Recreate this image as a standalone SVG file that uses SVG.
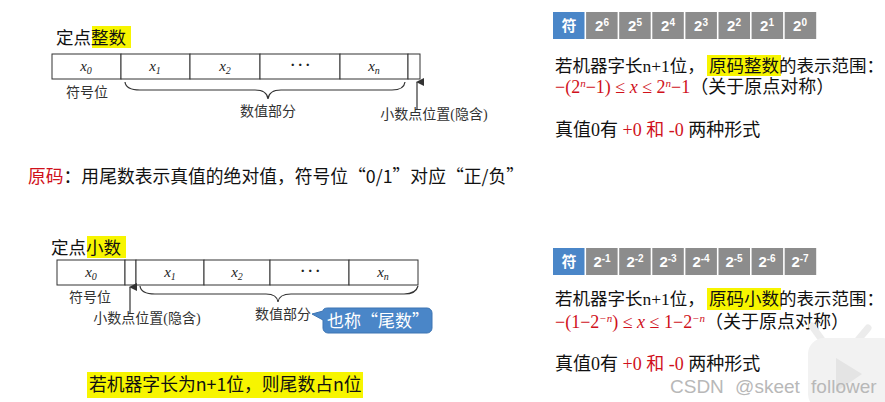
<svg xmlns="http://www.w3.org/2000/svg" width="885" height="402" viewBox="0 0 885 402">
<defs>
<style>
.cell{fill:#fff;stroke:#333;stroke-width:1}
.reg{font-family:"Liberation Serif",serif;font-style:italic;font-size:15px;fill:#222;text-anchor:middle}
.lbl{font-family:"Liberation Serif","Noto Sans CJK SC",serif;font-size:14px;fill:#333}
.head{font-family:"Noto Sans CJK SC",sans-serif;font-size:17.5px;fill:#111}
.hl{fill:#f7f500}
.txt{font-family:"Liberation Serif","Noto Sans CJK SC",serif;font-size:18px;fill:#111}
.tl{font-family:"Liberation Serif","Noto Sans CJK SC",serif;font-size:17.5px;fill:#111}
.red{fill:#d0111b}
.sans{font-family:"Noto Sans CJK SC",sans-serif;font-size:17.8px;fill:#111}
.bcell{fill:#4a86c8}
.gcell{fill:#8c8c8c}
.ct{font-family:"Liberation Sans","Noto Sans CJK SC",sans-serif;font-size:15px;font-weight:bold;fill:#fff;text-anchor:middle}
.sup{font-size:10px}
.line{fill:none;stroke:#333;stroke-width:1.2}
</style>
<marker id="ah" markerWidth="8" markerHeight="8" refX="4" refY="1" orient="auto" markerUnits="userSpaceOnUse" viewBox="0 0 8 8">
<path d="M0,8 L4,0 L8,8 Z" fill="#333"/>
</marker>
</defs>
<rect width="885" height="402" fill="#fff"/>

<!-- Top-left: fixed-point integer -->
<g id="int-title">
<rect class="hl" x="92" y="26" width="39" height="22"/>
<text class="head" x="56" y="44">定点整数</text>
</g>
<g id="int-register">
<rect class="cell" x="52" y="54" width="69" height="25"/>
<rect class="cell" x="121" y="54" width="69" height="25"/>
<rect class="cell" x="190" y="54" width="70" height="25"/>
<rect class="cell" x="260" y="54" width="80" height="25"/>
<rect class="cell" x="340" y="54" width="68" height="25"/>
<rect class="cell" x="408" y="54" width="12" height="25"/>
<text class="reg" x="86" y="71">x<tspan class="sup" dy="3">0</tspan></text>
<text class="reg" x="155" y="71">x<tspan class="sup" dy="3">1</tspan></text>
<text class="reg" x="225" y="71">x<tspan class="sup" dy="3">2</tspan></text>
<text class="reg" x="300" y="70" font-style="normal" font-weight="bold">· · ·</text>
<text class="reg" x="374" y="71">x<tspan class="sup" dy="3">n</tspan></text>
</g>
<g id="int-labels">
<text class="lbl" x="87" y="97" text-anchor="middle">符号位</text>
<text class="lbl" x="268" y="116" text-anchor="middle">数值部分</text>
<text class="lbl" x="434" y="119" text-anchor="middle">小数点位置(隐含)</text>
</g>

<!-- Top-right -->
<g id="int-bits">
<rect class="bcell" x="553" y="12" width="31.5" height="27"/>
<rect class="gcell" x="586.1" y="12" width="31.5" height="27"/>
<rect class="gcell" x="619.2" y="12" width="31.5" height="27"/>
<rect class="gcell" x="652.3" y="12" width="31.5" height="27"/>
<rect class="gcell" x="685.4" y="12" width="31.5" height="27"/>
<rect class="gcell" x="718.5" y="12" width="31.5" height="27"/>
<rect class="gcell" x="751.6" y="12" width="31.5" height="27"/>
<rect class="gcell" x="784.7" y="12" width="31.5" height="27"/>
<text class="ct" x="569" y="31" font-size="16">符</text>
<text class="ct" x="602" y="31">2<tspan class="sup" dy="-5">6</tspan></text>
<text class="ct" x="635" y="31">2<tspan class="sup" dy="-5">5</tspan></text>
<text class="ct" x="668" y="31">2<tspan class="sup" dy="-5">4</tspan></text>
<text class="ct" x="701" y="31">2<tspan class="sup" dy="-5">3</tspan></text>
<text class="ct" x="734" y="31">2<tspan class="sup" dy="-5">2</tspan></text>
<text class="ct" x="767" y="31">2<tspan class="sup" dy="-5">1</tspan></text>
<text class="ct" x="800" y="31">2<tspan class="sup" dy="-5">0</tspan></text>
</g>
<g id="int-range">
<rect class="hl" x="707" y="55" width="74" height="21"/>
<text class="tl" x="555" y="72">若机器字长n+1位，</text>
<text class="tl" x="709" y="72">原码整数</text>
<text class="tl" x="779" y="72">的表示范围：</text>
<text class="txt" x="555" y="93"><tspan class="red">−(2<tspan font-size="11" font-style="italic" dy="-6">n</tspan><tspan dy="6">−1)  ≤ </tspan><tspan font-style="italic">x</tspan> ≤ 2<tspan font-size="11" font-style="italic" dy="-6">n</tspan><tspan dy="6">−1</tspan></tspan>（关于原点对称）</text>
<text class="txt" x="555" y="136">真值0有 <tspan class="red">+0 和 -0</tspan> 两种形式</text>
</g>

<!-- Middle -->
<g id="definition">
<text class="sans" x="28" y="183"><tspan class="red">原码</tspan>：用尾数表示真值的绝对值，符号位“0/1”对应“正/负”</text>
</g>

<!-- Bottom-left: fixed-point fraction -->
<g id="frac-title">
<rect class="hl" x="87" y="236" width="39" height="22"/>
<text class="head" x="51" y="254">定点小数</text>
</g>
<g id="frac-register">
<rect class="cell" x="57" y="260" width="68" height="25"/>
<rect class="cell" x="125" y="260" width="11" height="25"/>
<rect class="cell" x="136" y="260" width="68" height="25"/>
<rect class="cell" x="204" y="260" width="66" height="25"/>
<rect class="cell" x="270" y="260" width="79" height="25"/>
<rect class="cell" x="349" y="260" width="69" height="25"/>
<text class="reg" x="91" y="277">x<tspan class="sup" dy="3">0</tspan></text>
<text class="reg" x="170" y="277">x<tspan class="sup" dy="3">1</tspan></text>
<text class="reg" x="237" y="277">x<tspan class="sup" dy="3">2</tspan></text>
<text class="reg" x="310" y="276" font-style="normal" font-weight="bold">· · ·</text>
<text class="reg" x="383" y="277">x<tspan class="sup" dy="3">n</tspan></text>
</g>
<g id="frac-labels">
<text class="lbl" x="90" y="302" text-anchor="middle">符号位</text>
<text class="lbl" x="147" y="323" text-anchor="middle">小数点位置(隐含)</text>
<text class="lbl" x="283" y="319" text-anchor="middle">数值部分</text>
</g>
<g id="callout">
<path d="M328,308 H427 A5,5 0 0 1 432,313 V328 A5,5 0 0 1 427,333 H328 A5,5 0 0 1 323,328 V320 L312,314 L323,311 Q323,308 328,308 Z" fill="#4a86c8" stroke="#3d75b3" stroke-width="1"/>
<text x="378" y="327" font-family="'Noto Sans CJK SC',sans-serif" font-size="17" fill="#fff" text-anchor="middle">也称“尾数”</text>
</g>

<!-- Bottom-right -->
<g id="frac-bits">
<rect class="bcell" x="553" y="248" width="31.5" height="27"/>
<rect class="gcell" x="586.1" y="248" width="31.5" height="27"/>
<rect class="gcell" x="619.2" y="248" width="31.5" height="27"/>
<rect class="gcell" x="652.3" y="248" width="31.5" height="27"/>
<rect class="gcell" x="685.4" y="248" width="31.5" height="27"/>
<rect class="gcell" x="718.5" y="248" width="31.5" height="27"/>
<rect class="gcell" x="751.6" y="248" width="31.5" height="27"/>
<rect class="gcell" x="784.7" y="248" width="31.5" height="27"/>
<text class="ct" x="569" y="267" font-size="16">符</text>
<text class="ct" x="602" y="267">2<tspan class="sup" dy="-5">-1</tspan></text>
<text class="ct" x="635" y="267">2<tspan class="sup" dy="-5">-2</tspan></text>
<text class="ct" x="668" y="267">2<tspan class="sup" dy="-5">-3</tspan></text>
<text class="ct" x="701" y="267">2<tspan class="sup" dy="-5">-4</tspan></text>
<text class="ct" x="734" y="267">2<tspan class="sup" dy="-5">-5</tspan></text>
<text class="ct" x="767" y="267">2<tspan class="sup" dy="-5">-6</tspan></text>
<text class="ct" x="800" y="267">2<tspan class="sup" dy="-5">-7</tspan></text>
</g>
<g id="frac-range">
<rect class="hl" x="707" y="288" width="74" height="22"/>
<text class="tl" x="555" y="305">若机器字长n+1位，</text>
<text class="tl" x="709" y="305">原码小数</text>
<text class="tl" x="779" y="305">的表示范围：</text>
<text class="txt" x="555" y="328"><tspan class="red">−(1−2<tspan font-size="11" font-style="italic" dy="-6">−n</tspan><tspan dy="6">)  ≤ </tspan><tspan font-style="italic">x</tspan> ≤ 1−2<tspan font-size="11" font-style="italic" dy="-6">−n</tspan></tspan><tspan dy="6">（关于原点对称）</tspan></text>
<text class="txt" x="555" y="370">真值0有 <tspan class="red">+0 和 -0</tspan> 两种形式</text>
</g>

<g id="note">
<rect class="hl" x="87" y="372" width="276" height="26"/>
<text class="sans" x="89" y="391" font-size="17.5">若机器字长为n+1位，则尾数占n位</text>
</g>

<!-- watermark -->
<g id="watermark">
<path d="M822,340 L812,326 M858,340 L868,328" stroke="#ececec" stroke-width="7" stroke-linecap="round"/>
<rect x="808" y="338" width="90" height="72" rx="16" fill="#f2f2f2"/>
<path d="M836,358 L862,374 L836,392 Z" fill="#e4e4e4"/>
<text x="670" y="393" font-family="'Liberation Sans',sans-serif" font-size="19" fill="#b8b8b8" word-spacing="6">CSDN @skeet follower</text>
</g>

<g id="connectors">
<path class="line" d="M125,82 Q126,90 140,90 L255,90 Q267,90 268,99 Q269,90 281,90 L392,90 Q404,90 405,82"/>
<line class="line" x1="417" y1="110" x2="417" y2="82" marker-end="url(#ah)"/>
<path class="line" d="M140,286 Q141,294 155,294 L266,294 Q277,294 278,302 Q279,294 291,294 L404,294 Q416,294 418,286"/>
<line class="line" x1="130" y1="314" x2="130" y2="287" marker-end="url(#ah)"/>
</g>
</svg>
